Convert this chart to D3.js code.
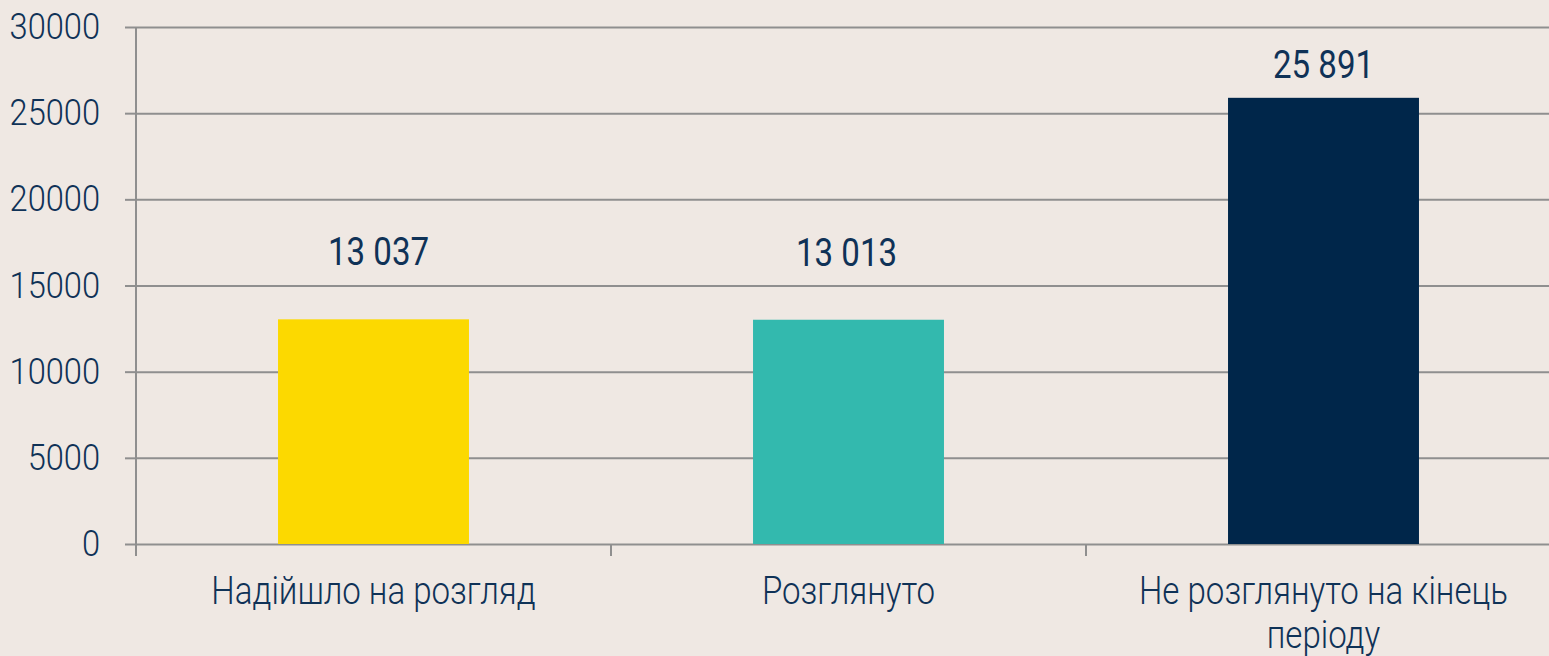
<!DOCTYPE html>
<html>
<head>
<meta charset="utf-8">
<script src="https://cdn.jsdelivr.net/npm/d3@7"></script>
<style>
  html, body { margin: 0; padding: 0; background: #efe8e3; }
  svg { display: block; }
  text { font-family: Roboto, "Noto Sans", sans-serif; fill: #0f3257; }
</style>
</head>
<body>
<svg id="chart" width="1549" height="656"></svg>
<script>
const categories = ["Надійшло на розгляд", "Розглянуто", "Не розглянуто на кінець|періоду"];
const values = [13037, 13013, 25891];
const valueLabels = ["13 037", "13 013", "25 891"];
const barColors = ["#fcd900", "#33b9ae", "#00264a"];
const yTicks = [0, 5000, 10000, 15000, 20000, 25000, 30000];

(function () {
const svg = d3.select("#chart");
const W = 1549, H = 656;
const pLeft = 136, pRight = 1561, pTop = 27, pBottom = 544;
const squeeze = 0.87;

svg.append("rect").attr("width", W).attr("height", H).attr("fill", "#efe8e3");

const x = d3.scaleBand().domain(categories).range([pLeft, pRight]).padding(0);
const y = d3.scaleLinear().domain([0, 30000]).range([pBottom, pTop]);

const gridColor = "#8f8f8f";

// gridlines + y ticks
const yAxis = d3.axisLeft(y).tickValues(yTicks).tickSize(11).tickFormat(d => d);
const gy = svg.append("g").attr("transform", `translate(${pLeft},0)`).call(yAxis);
gy.select(".domain").remove();
gy.selectAll(".tick line").attr("stroke", gridColor).attr("stroke-width", 2);
gy.selectAll(".tick").append("line")
  .attr("x1", 0).attr("x2", W - pLeft)
  .attr("stroke", gridColor).attr("stroke-width", 2);
gy.selectAll(".tick text").remove();
gy.selectAll(".tick").append("text")
  .attr("text-anchor", "end")
  .attr("transform", `translate(-36,11.5) scale(${squeeze},1)`)
  .attr("font-size", 37.5)
  .attr("font-weight", 300)
  .text(d => d);

// vertical axis line
svg.append("line")
  .attr("x1", pLeft).attr("x2", pLeft)
  .attr("y1", y(30000)).attr("y2", pBottom + 12)
  .attr("stroke", gridColor).attr("stroke-width", 2);

// x ticks at band boundaries
const boundaries = categories.map(c => x(c)).concat([x(categories[categories.length - 1]) + x.bandwidth()]);
svg.selectAll(".xtick").data(boundaries).enter().append("line")
  .attr("x1", d => d).attr("x2", d => d)
  .attr("y1", pBottom).attr("y2", pBottom + 12)
  .attr("stroke", gridColor).attr("stroke-width", 2);

// bars
const barFrac = 0.402;
const bw = x.bandwidth() * barFrac;
svg.selectAll(".bar").data(values).enter().append("rect")
  .attr("x", (d, i) => x(categories[i]) + (x.bandwidth() - bw) / 2)
  .attr("y", d => y(d))
  .attr("width", bw)
  .attr("height", d => y(0) - y(d))
  .attr("fill", (d, i) => barColors[i]);

// value labels (manually placed in the original)
const labelGap = [54, 54, 20];
const labelNudge = [5, -2, 0];
svg.selectAll(".vlabel").data(values).enter().append("text")
  .attr("text-anchor", "middle")
  .attr("font-size", 38)
  .attr("font-weight", 400)
  .attr("transform", (d, i) => `translate(${x(categories[i]) + x.bandwidth() / 2 + labelNudge[i]},${y(d) - labelGap[i]}) scale(${squeeze},1)`)
  .text((d, i) => valueLabels[i]);

// category labels
categories.forEach((c, i) => {
  const lines = c.split("|");
  const cx = x(c) + x.bandwidth() / 2;
  lines.forEach((ln, j) => {
    svg.append("text")
      .attr("text-anchor", "middle")
      .attr("font-size", 38)
      .attr("font-weight", 300)
      .attr("transform", `translate(${cx},${604 + j * 44}) scale(${squeeze},1)`)
      .text(ln);
  });
});
})();
</script>
</body>
</html>
